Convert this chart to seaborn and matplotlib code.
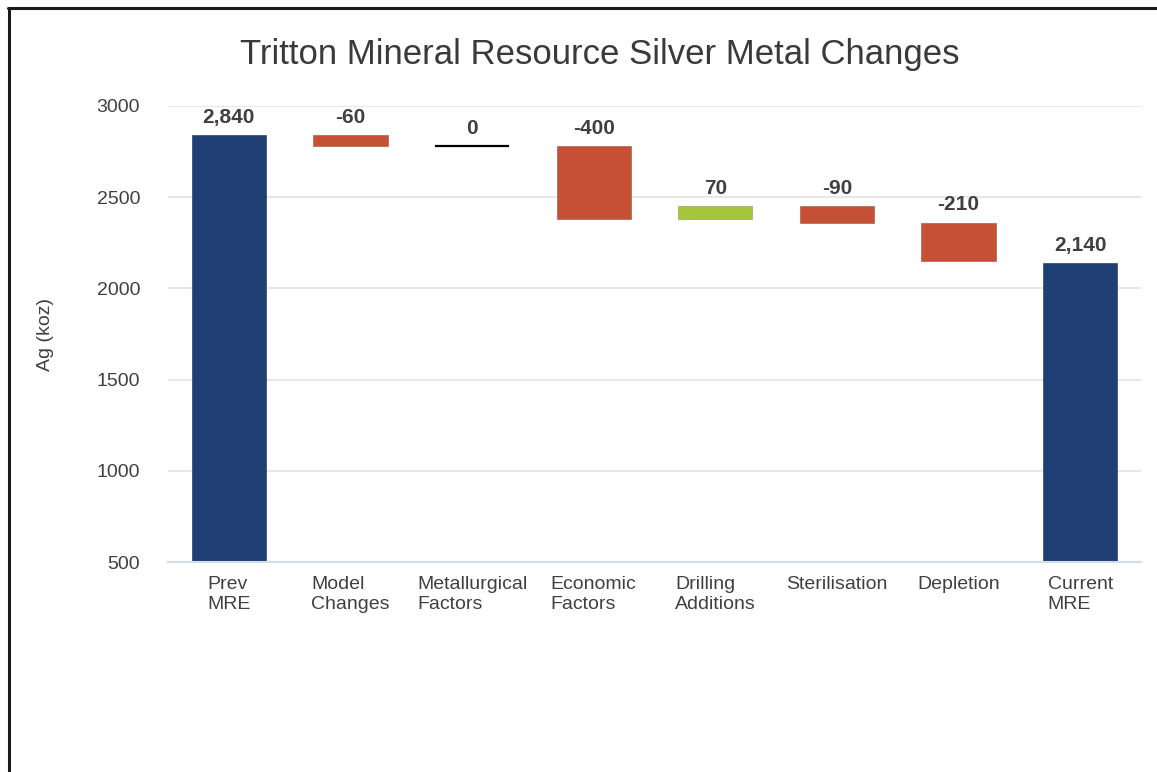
import numpy as np
import pandas as pd
import seaborn as sns
import matplotlib.pyplot as plt
from matplotlib.lines import Line2D

# waterfall data (koz Ag)
steps = ['Prev\nMRE', 'Model\nChanges', 'Metallurgical\nFactors', 'Economic\nFactors',
         'Drilling\nAdditions', 'Sterilisation', 'Depletion', 'Current\nMRE']
changes = [2840, -60, 0, -400, 70, -90, -210, 2140]
kinds = ['total', 'change', 'change', 'change', 'change', 'change', 'change', 'total']
value_labels = ['2,840', '-60', '0', '-400', '70', '-90', '-210', '2,140']

BLUE = '#1F3F74'
RED = '#C65035'
GREEN = '#A5C63B'
TXT = '#404040'

# running level -> bottom / height for each bar
level = 0
bottoms, heights = [], []
for c, k in zip(changes, kinds):
    if k == 'total':
        bottoms.append(0)
        heights.append(c)
        level = c
    else:
        new = level + c
        bottoms.append(min(level, new))
        heights.append(abs(c))
        level = new

df = pd.DataFrame({'step': steps, 'height': heights, 'bottom': bottoms,
                   'change': changes, 'kind': kinds})

sns.set_style('white')
plt.rcParams['font.family'] = ['Liberation Sans', 'DejaVu Sans']

fig = plt.figure(figsize=(11.57, 7.72), dpi=100)
ax = fig.add_axes([0.1452, 0.272, 0.841, 0.5907])

sns.barplot(data=df, x='step', y='height', bottom=df['bottom'].values,
            order=steps, width=0.61, color=BLUE, ax=ax, zorder=3,
            linewidth=0.8)

bars = ax.containers[0]
for patch, c, k in zip(bars.patches, changes, kinds):
    if k == 'total':
        fc = BLUE
    elif c > 0:
        fc = GREEN
    elif c < 0:
        fc = RED
    else:
        fc = 'none'
    patch.set_facecolor(fc)
    if k != 'total' and c == 0:
        patch.set_edgecolor('black')
        patch.set_linewidth(1.6)
    else:
        patch.set_edgecolor(sns.desaturate(fc, 0.6) if fc != 'none' else 'none')
        patch.set_linewidth(0.5)

ax.bar_label(bars, labels=value_labels, padding=6, fontsize=15,
             fontweight='bold', color=TXT)

ax.set_ylim(500, 3000)
ax.set_xlim(-0.5, 7.5)
ax.set_yticks([500, 1000, 1500, 2000, 2500, 3000])
ax.yaxis.grid(True, color='#E3E3E3', linewidth=1.2, zorder=0)
ax.set_axisbelow(True)
for s in ['top', 'right', 'left']:
    ax.spines[s].set_visible(False)
ax.spines['bottom'].set_color('#D3DCEA')
ax.spines['bottom'].set_linewidth(1.5)
ax.spines['bottom'].set_zorder(4)

ax.tick_params(axis='both', length=0, labelsize=14, labelcolor=TXT)
ax.tick_params(axis='y', pad=20)
ax.tick_params(axis='x', pad=10)
for lab in ax.get_xticklabels():
    lab.set_multialignment('left')
    lab.set_verticalalignment('top')

ax.set_xlabel('')
ax.set_ylabel('Ag (koz)', fontsize=14, color=TXT, labelpad=31)

fig.text(0.5186, 0.93, 'Tritton Mineral Resource Silver Metal Changes',
         ha='center', va='center', fontsize=25, color='#3A3A3A')

# outer frame (left and top edges visible in the reference)
fig.add_artist(Line2D([0.0075, 0.0075], [0, 0.99], transform=fig.transFigure,
                      color='#1A1A1A', linewidth=2.2))
fig.add_artist(Line2D([0.0065, 1.0], [0.99, 0.99], transform=fig.transFigure,
                      color='#1A1A1A', linewidth=2.2))

fig.savefig('out.png', dpi=100, facecolor='white')
